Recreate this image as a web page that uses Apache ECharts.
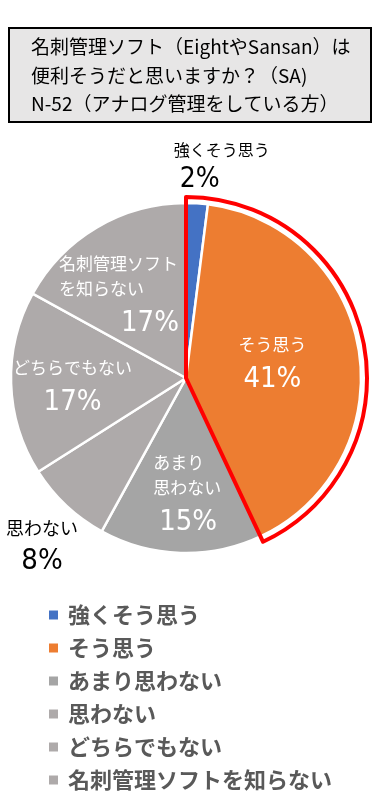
<!DOCTYPE html>
<html>
<head>
<meta charset="utf-8">
<script src="https://cdn.jsdelivr.net/npm/echarts@6/dist/echarts.min.js"></script>
<style>
html,body{margin:0;padding:0;background:#fff;}
#chart{width:380px;height:800px;}
</style>
</head>
<body>
<div id="chart"></div>
<script>
// ---- data ----
const titleLines = ['名刺管理ソフト（EightやSansan）は', '便利そうだと思いますか？（SA)', 'N-52（アナログ管理をしている方）'];
const categories = ['強くそう思う', 'そう思う', 'あまり思わない', '思わない', 'どちらでもない', '名刺管理ソフトを知らない'];
const values = [2, 41, 15, 8, 17, 17];
const labelNames = ['強くそう思う', 'そう思う', 'あまり\n思わない', '思わない', 'どちらでもない', '名刺管理ソフト\nを知らない'];
const highlightedCount = 2; // first two categories outlined in red

// ---- styles ----
const colors = ['#4472C4', '#ED7D31', '#A5A5A5', '#AEAAAA', '#AEAAAA', '#AEAAAA'];
const nameStyleKeys = ['n0', 'n', 'n2', 'n3', 'n', 'n5'];
const pctStyleKeys = ['p0', 'p', 'p', 'p3', 'p', 'p5'];
const labelShift = [[30, -120], [-3, 3.5], [5, 29], [-82, 105], [-23, 9.5], [-21, -2]];
const CJK = '"Noto Sans CJK JP", "Noto Sans", sans-serif';
const NARROW = '"DejaVu Sans Condensed", "Liberation Sans Narrow", "Liberation Sans", Arial, sans-serif';

const chart = echarts.init(document.getElementById('chart'), null, {renderer: 'canvas'});

const pieData = categories.map((c, i) => ({
  name: c,
  value: values[i],
  itemStyle: {color: colors[i]},
  label: {
    formatter: labelNames[i].split('\n').map(s => '{' + nameStyleKeys[i] + '|' + s + '}').join('\n') +
      '\n{' + pctStyleKeys[i] + '|' + values[i] + '%}'
  }
}));

const hiSum = values.slice(0, highlightedCount).reduce((a, b) => a + b, 0);
const restSum = values.slice(highlightedCount).reduce((a, b) => a + b, 0);

const white = '#ffffff';
const option = {
  backgroundColor: '#ffffff',
  animation: false,
  title: {
    text: titleLines.join('\n'),
    left: 31,
    top: 33,
    padding: 0,
    textStyle: {fontFamily: CJK, fontSize: 19, fontWeight: 'normal', color: '#000', lineHeight: 28.5}
  },
  graphic: [{
    type: 'rect',
    z: -1,
    shape: {x: 9, y: 28, width: 362, height: 94},
    style: {fill: '#E7E6E6', stroke: '#000', lineWidth: 2}
  }],
  legend: {
    orient: 'vertical',
    left: 42,
    top: 599,
    data: categories,
    icon: 'rect',
    itemWidth: 11,
    itemHeight: 11,
    itemGap: 11,
    selectedMode: false,
    textStyle: {fontFamily: CJK, fontSize: 22, lineHeight: 22, fontWeight: 'bold', color: '#595959', padding: [0, 0, 0, 4]}
  },
  series: [{
    type: 'pie',
    center: [186, 378],
    radius: [0, 175],
    startAngle: 90,
    clockwise: true,
    avoidLabelOverlap: false,
    emphasis: {disabled: true},
    itemStyle: {borderColor: '#fff', borderWidth: 2.5},
    labelLine: {show: false},
    label: {
      show: true,
      position: 'inside',
      rich: {
        n: {color: white, fontFamily: CJK, fontSize: 17, lineHeight: 25},
        p: {color: white, fontFamily: NARROW, fontSize: 29, lineHeight: 45},
        n0: {color: '#000', fontFamily: CJK, fontSize: 16, lineHeight: 25},
        p0: {color: '#000', fontFamily: NARROW, fontSize: 28, lineHeight: 35, padding: [0, 44, 0, 0]},
        n2: {color: white, fontFamily: CJK, fontSize: 17, lineHeight: 25, width: 70, align: 'left'},
        n3: {color: '#000', fontFamily: CJK, fontSize: 18, lineHeight: 25},
        p3: {color: '#000', fontFamily: NARROW, fontSize: 29, lineHeight: 41},
        n5: {color: white, fontFamily: CJK, fontSize: 17, lineHeight: 25, width: 120, align: 'left'},
        p5: {color: white, fontFamily: NARROW, fontSize: 29, lineHeight: 45, width: 112, align: 'right'}
      }
    },
    labelLayout: function (params) {
      const s = labelShift[params.dataIndex];
      return {dx: s[0], dy: s[1]};
    },
    data: pieData
  }, {
    type: 'pie',
    center: [186, 378],
    radius: [0, 181],
    startAngle: 90,
    clockwise: true,
    silent: true,
    z: 5,
    emphasis: {disabled: true},
    label: {show: false},
    labelLine: {show: false},
    legendHoverLink: false,
    data: [
      {value: hiSum, itemStyle: {color: 'rgba(0,0,0,0)', borderColor: '#FF0000', borderWidth: 4}},
      {value: restSum, itemStyle: {color: 'rgba(0,0,0,0)', borderWidth: 0}}
    ]
  }]
};
chart.setOption(option);
</script>
</body>
</html>
